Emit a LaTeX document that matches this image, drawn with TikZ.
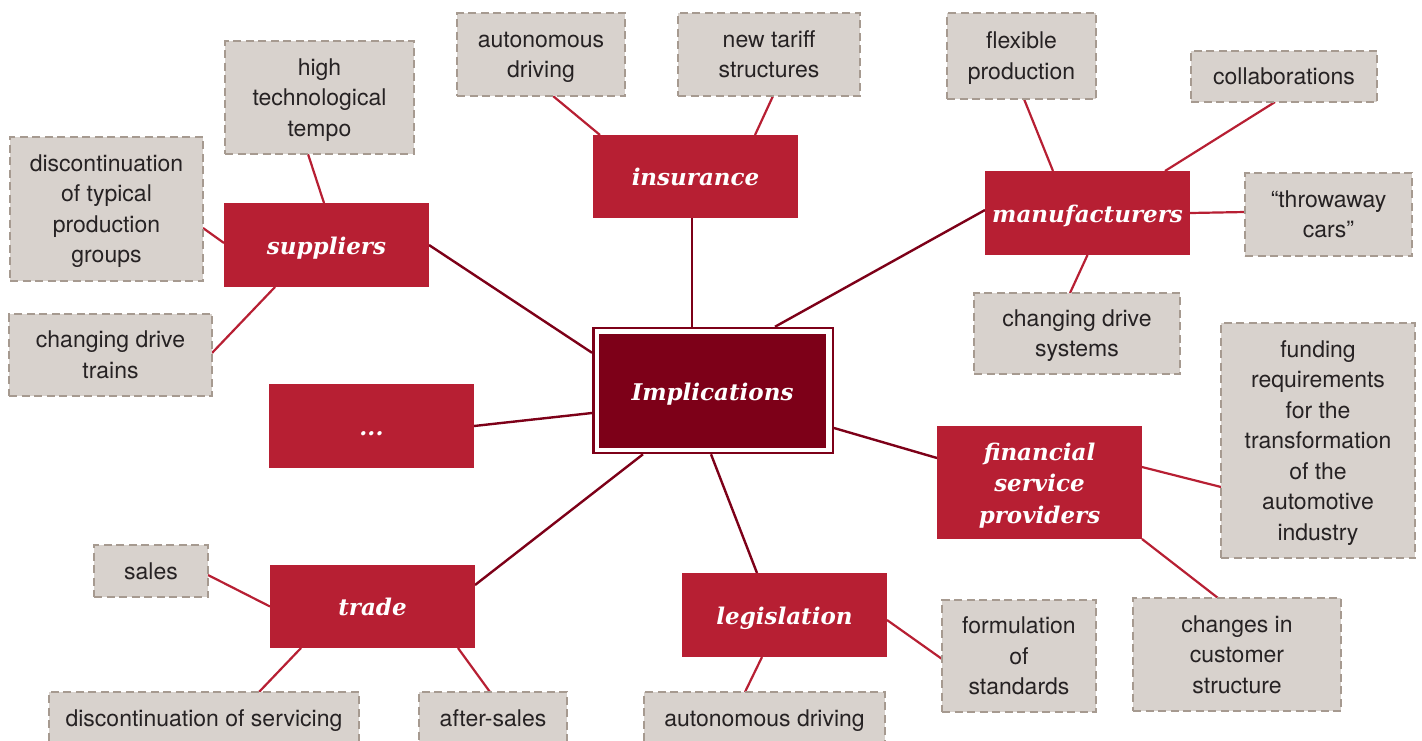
\documentclass[tikz,border=0pt]{standalone}
\usepackage{fontspec}
\usetikzlibrary{calc,backgrounds}
\newfontfamily\catfont{DejaVu Serif}
\newfontfamily\leaffont{TeX Gyre Heros}
\definecolor{catred}{HTML}{B71F33}
\definecolor{darkred}{HTML}{7D0018}
\definecolor{leaffill}{HTML}{D8D2CD}
\definecolor{leafdash}{HTML}{A69A90}
\definecolor{leaftext}{HTML}{262223}
\newcommand{\leaftop}{\rule{0pt}{22pt}}
\newcommand{\cattop}{\rule{0pt}{24pt}}
\tikzset{
  sz/.style 2 args={minimum width=#1, minimum height=#2},
  catfontstyle/.style={font=\catfont\bfseries\itshape\fontsize{23}{31.5}\selectfont,
    execute at begin node={\rule{0pt}{24pt}}, execute at end node={\rule[-6pt]{0pt}{6pt}}},
  catbox/.style={fill=catred, text=white, inner sep=0pt, outer sep=0pt, align=center, catfontstyle},
  leafbox/.style={fill=leaffill, draw=leafdash, line width=2.4pt, dash pattern=on 8pt off 4.5pt,
    text=leaftext, inner sep=0pt, outer sep=0pt, align=center,
    font=\leaffont\fontsize{23}{30.5}\selectfont,
    execute at begin node={\rule{0pt}{22pt}}, execute at end node={\rule[-6pt]{0pt}{6pt}}},
  hubline/.style={draw=darkred, line width=2.4pt},
  leafline/.style={draw=catred, line width=2.2pt},
}
\begin{document}
\begin{tikzpicture}[x=1pt,y=-1pt]
\useasboundingbox (0,0) rectangle (1422,740);
\clip (0,0) rectangle (1422,740);

% central node
\node[draw=darkred, line width=2.5pt, fill=white, sz={239.5}{125}, inner sep=0pt, outer sep=1.25pt] (cent) at (713,390.5) {};
\node[fill=darkred, sz={227}{114}, inner sep=0pt, outer sep=0pt, text=white, catfontstyle] (impl) at (712.5,391) {Implications};

% category nodes
\node[catbox, sz={205}{83}] (ins) at (695.5,176.5) {insurance};
\node[catbox, sz={205}{84}] (supp) at (326.5,245) {suppliers};
\node[catbox, sz={205}{84}] (manu) at (1087.5,213) {manufacturers};
\node[catbox, sz={205}{84}] (dots) at (371.5,426) {...};
\node[catbox, sz={205}{113}] (fin) at (1039.5,482.5) {\cattop financial\\service\\providers};
\node[catbox, sz={205}{83}] (trade) at (372.5,606.5) {trade};
\node[catbox, sz={205}{84}] (legis) at (784.5,615) {legislation};

% leaf nodes
\node[leafbox, sz={189}{113}] (hi) at (319.5,97.5) {\leaftop high\\technological\\tempo};
\node[leafbox, sz={193}{144}] (disc) at (106.5,209) {\leaftop discontinuation\\of typical\\production\\groups};
\node[leafbox, sz={203}{82}] (cdt) at (110.5,355) {\leaftop changing drive\\trains};
\node[leafbox, sz={168}{83}] (adt) at (541,54.5) {\leaftop autonomous\\driving};
\node[leafbox, sz={182}{83}] (ntf) at (769,54.5) {\leaftop new tariff\\structures};
\node[leafbox, sz={149}{86}] (flex) at (1021.5,56) {\leaftop flexible\\production};
\node[leafbox, sz={186}{51}] (coll) at (1284,76.5) {collaborations};
\node[leafbox, sz={167}{83}] (throw) at (1328.5,214.5) {\leaftop “throwaway\\cars”};
\node[leafbox, sz={206}{81}] (cds) at (1077,333.5) {\leaftop changing drive\\systems};
\node[leafbox, sz={194}{235}] (fund) at (1318,440.5) {\leaftop funding\\requirements\\for the\\transformation\\of the\\automotive\\industry};
\node[leafbox, sz={208}{113}] (chg) at (1237,654.5) {\leaftop changes in\\customer\\structure};
\node[leafbox, sz={154}{112}] (form) at (1019,656) {\leaftop formulation\\of\\standards};
\node[leafbox, sz={241}{52}] (adb) at (764.5,718) {autonomous driving};
\node[leafbox, sz={148}{52}] (as) at (493,718) {after-sales};
\node[leafbox, sz={310}{52}] (dos) at (204,718) {discontinuation of servicing};
\node[leafbox, sz={114}{52}] (sales) at (151,571) {sales};

\begin{scope}[on background layer]
% hub connectors
\draw[hubline] ($(cent.north)+(-21,0)$) -- ($(ins.south)+(-3.5,0)$);
\draw[hubline] (supp.east) -- ($(cent.north west)+(0,26)$);
\draw[hubline] ($(cent.north)+(62,0)$) -- ($(manu.west)+(0,-3)$);
\draw[hubline] ($(cent.west)+(0,22.5)$) -- (dots.east);
\draw[hubline] ($(cent.east)+(0,37.5)$) -- ($(fin.west)+(0,-24.5)$);
\draw[hubline] ($(cent.south)+(-70,0)$) -- ($(trade.east)+(0,-21.5)$);
\draw[hubline] ($(cent.south)+(-2,0)$) -- ($(legis.north)+(-27.5,0)$);
% leaf connectors
\draw[leafline] ($(hi.south)+(-11.5,0)$) -- ($(supp.north)+(-2.5,0)$);
\draw[leafline] ($(disc.east)+(0,19)$) -- ($(supp.west)+(0,-2)$);
\draw[leafline] ($(cdt.east)+(0,-2)$) -- ($(supp.south)+(-51.5,0)$);
\draw[leafline] ($(adt.south)+(12,0)$) -- ($(ins.north)+(-95.5,0)$);
\draw[leafline] ($(ntf.south)+(4,0)$) -- ($(ins.north)+(59.5,0)$);
\draw[leafline] ($(flex.south)+(2.5,0)$) -- ($(manu.north)+(-34.5,0)$);
\draw[leafline] ($(coll.south)+(-9,0)$) -- ($(manu.north)+(77.5,0)$);
\draw[leafline] (manu.east) -- ($(throw.west)+(0,-2.5)$);
\draw[leafline] (manu.south) -- ($(cds.north)+(-7,0)$);
\draw[leafline] ($(fin.east)+(0,-15.5)$) -- ($(fund.west)+(0,46.5)$);
\draw[leafline] (fin.south east) -- ($(chg.north)+(-19,0)$);
\draw[leafline] ($(legis.east)+(0,5)$) -- ($(form.west)+(0,3)$);
\draw[leafline] ($(legis.south)+(-22.5,0)$) -- ($(adb.north)+(-19.5,0)$);
\draw[leafline] ($(sales.east)+(0,4)$) -- (trade.west);
\draw[leafline] ($(trade.south)+(-71.5,0)$) -- ($(dos.north)+(55,0)$);
\draw[leafline] ($(trade.south)+(85.5,0)$) -- ($(as.north)+(-3,0)$);
\end{scope}
\end{tikzpicture}
\end{document}
